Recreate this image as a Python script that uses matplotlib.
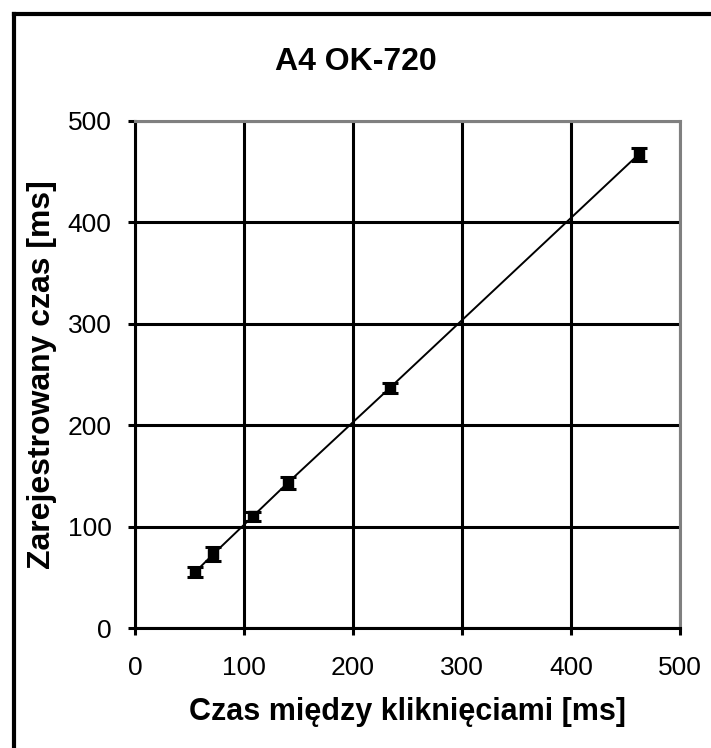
import numpy as np
import matplotlib
matplotlib.use("Agg")
import matplotlib.pyplot as plt
from matplotlib.lines import Line2D

plt.rcParams['font.family'] = ['Liberation Sans', 'DejaVu Sans']

# data
x_ms = [55, 72, 108, 140, 234, 462]
y_ms = [55, 73, 110, 143, 237, 467]
y_err = [5, 7, 4, 6, 5, 6]
ticks = [0, 100, 200, 300, 400, 500]

W, H = 711, 748
fig = plt.figure(figsize=(W/100, H/100), dpi=100)
ax = fig.add_axes([135/W, 1 - 628/H, 545/W, 507/H])

# outer frame (only left and top visible in the picture)
fig.lines.append(Line2D([14/W, 14/W], [0, 1 - 14/H], transform=fig.transFigure,
                        color='black', lw=3, solid_capstyle='projecting'))
fig.lines.append(Line2D([14/W, 1], [1 - 14/H, 1 - 14/H], transform=fig.transFigure,
                        color='black', lw=3, solid_capstyle='projecting'))

ax.plot(x_ms, y_ms, color='black', lw=1.4, zorder=3)
ax.errorbar(x_ms, y_ms, yerr=y_err, fmt='s', color='black', ms=7,
            ecolor='black', elinewidth=1.5, capsize=6, capthick=2.2, zorder=4)

ax.set_xlim(0, 500)
ax.set_ylim(0, 500)
ax.set_xticks(ticks)
ax.set_yticks(ticks)
ax.grid(True, color='black', lw=2.2)
ax.set_axisbelow(True)

for s in ['left', 'bottom']:
    ax.spines[s].set_color('black')
    ax.spines[s].set_linewidth(2.2)
for s in ['top', 'right']:
    ax.spines[s].set_color('#808080')
    ax.spines[s].set_linewidth(2.2)

ax.tick_params(direction='out', length=5, width=2.2, labelsize=19)
ax.tick_params(axis='x', pad=15)
ax.tick_params(axis='y', pad=12)

ax.set_xlabel('Czas między kliknięciami [ms]', fontsize=22, fontweight='bold', va='center')
ax.set_ylabel('Zarejestrowany czas [ms]', fontsize=23, fontweight='bold', va='center')
ax.xaxis.set_label_coords(0.5, (628 - 712) / 507)
ax.yaxis.set_label_coords((42 - 135) / 545, 0.5)
fig.text(0.5, 1 - 62/H, 'A4 OK-720', fontsize=23, fontweight='bold', ha='center', va='center')

fig.savefig('out.png', dpi=100)
